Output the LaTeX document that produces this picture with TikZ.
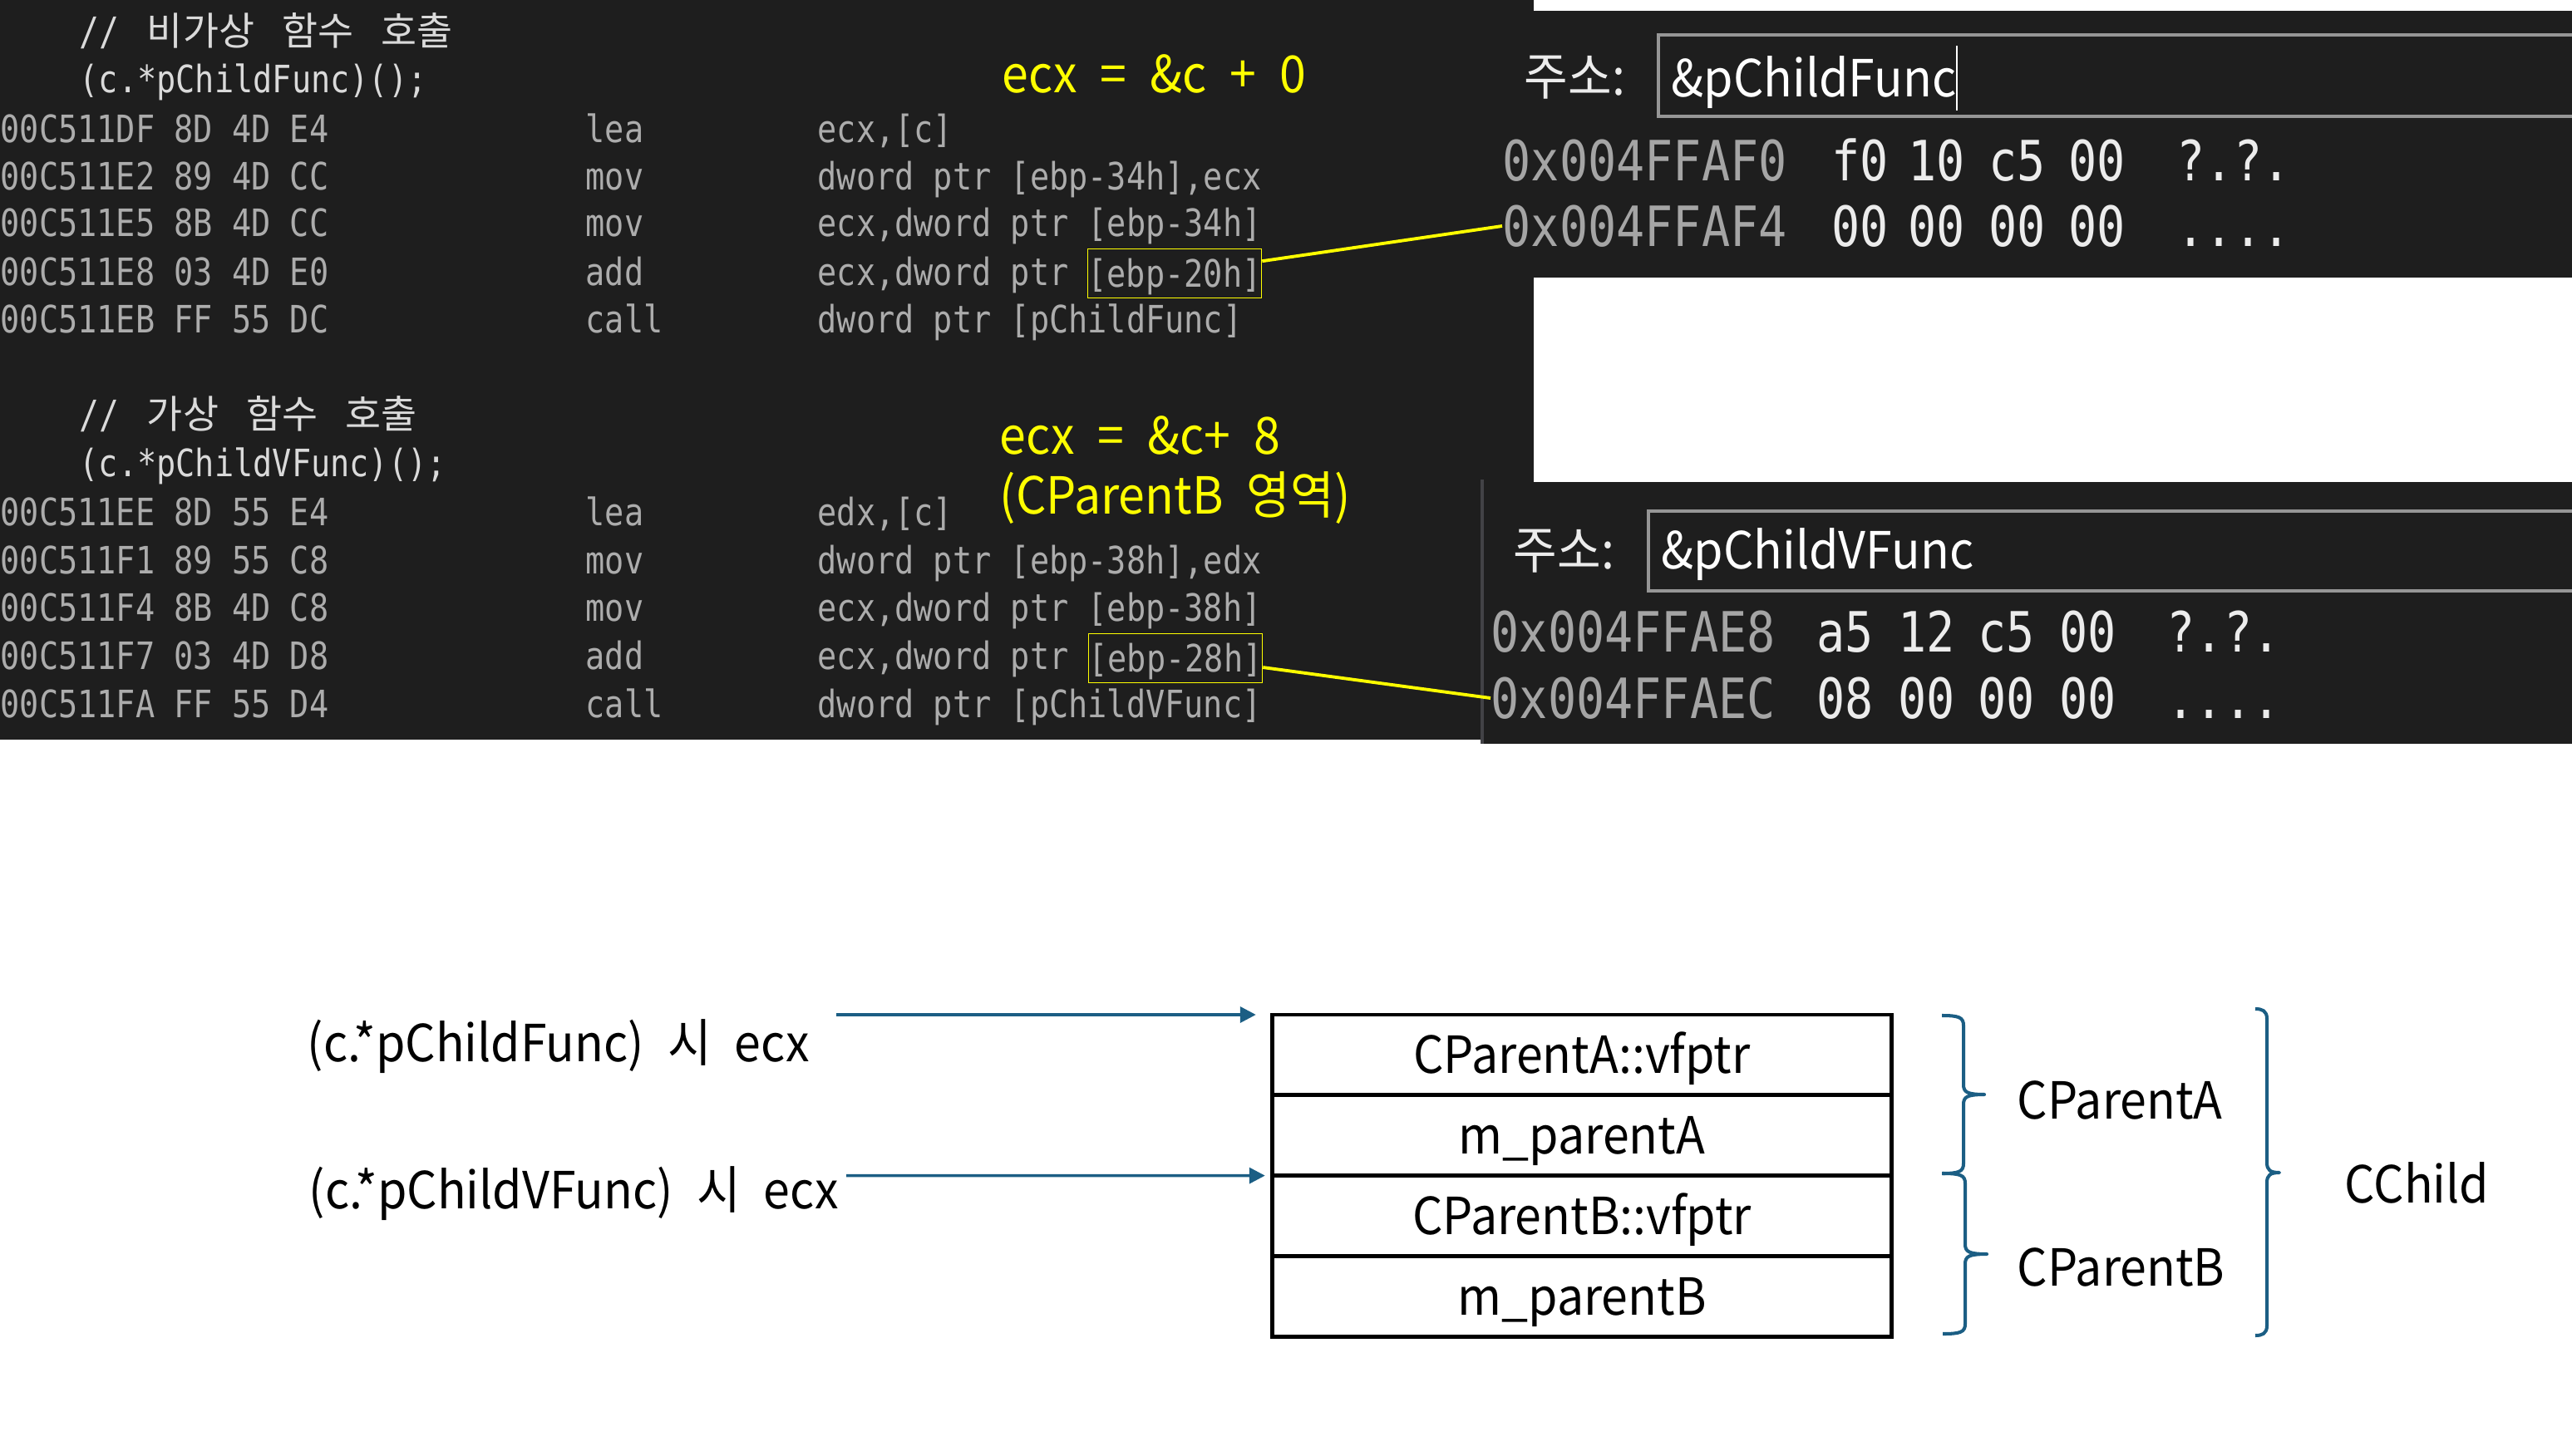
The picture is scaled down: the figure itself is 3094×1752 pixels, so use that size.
\documentclass[tikz,border=0pt]{standalone}
\usepackage{fontspec}
\setmainfont{Noto Sans CJK KR}
\newfontfamily\codefont[FakeStretch=0.85]{DejaVu Sans Mono}
\newfontfamily\uifont[FakeStretch=0.93]{Noto Sans CJK KR}
\usetikzlibrary{arrows.meta,positioning}

\newcommand{\wordgap}{\hspace{8pt}}
\newcommand{\cellgap}{\hspace{9.5pt}}

\definecolor{vsbg}{RGB}{30,30,30}
\definecolor{vsline}{RGB}{66,66,70}
\definecolor{codegray}{RGB}{172,172,172}
\definecolor{codewhite}{RGB}{218,218,218}
\definecolor{addrgray}{RGB}{165,165,165}
\definecolor{bytewhite}{RGB}{236,236,236}
\definecolor{editgray}{RGB}{150,150,150}
\definecolor{hlyellow}{RGB}{255,255,0}
\definecolor{ptrblue}{RGB}{27,94,132}

\tikzset{
  asm/.style={anchor=west, inner sep=0pt, text=codegray,
    font=\codefont\fontsize{12.9}{15}\selectfont, text height=12.4pt, text depth=3pt},
  src/.style={asm, text=codewhite},
  cmt/.style={anchor=west, inner sep=0pt, text=codewhite,
    font=\fontsize{13.3}{15}\selectfont, text height=12.6pt, text depth=3pt},
  ebpbox/.style={asm, anchor=center, draw=hlyellow, line width=0.45pt,
    minimum width=2.05cm, minimum height=0.59cm},
  hlline/.style={hlyellow, line width=1.1pt},
  note/.style={anchor=west, inner sep=0pt, text=hlyellow,
    font=\uifont\fontsize{17.5}{21}\selectfont, text height=16.8pt, text depth=4pt},
  ui/.style={note, text=bytewhite},
  memaddr/.style={anchor=west, inner sep=0pt, text=addrgray,
    font=\codefont\fontsize{19}{22}\selectfont, text height=17.9pt, text depth=4pt},
  membyte/.style={memaddr, text=bytewhite},
  editbox/.style={draw=editgray, line width=1.1pt},
  layoutcell/.style={draw, line width=1.4pt, outer sep=0pt, inner sep=0pt,
    minimum width=7.44cm, minimum height=0.9675cm,
    font=\uifont\fontsize{17.5}{21}\selectfont, text height=16.8pt, text depth=4pt},
  callname/.style={note, text=black},
  ptr/.style={ptrblue, line width=1pt, -{Triangle[length=0.19cm,width=0.19cm]}},
  bracepen/.style={ptrblue, line width=1.15pt, line join=round}
}

% right brace: x hook, x stem, x tip, y top, y tip, y bottom
\newcommand{\groupbrace}[6]{%
  \draw[bracepen] (#1,#4) .. controls (#2-6,#4) and (#2,#4+2) .. (#2,#4+12)
    -- (#2,#5-12) .. controls (#2,#5-3) and (#2+4,#5) .. (#3,#5)
    .. controls (#2+4,#5) and (#2,#5+3) .. (#2,#5+12)
    -- (#2,#6-12) .. controls (#2,#6-2) and (#2-6,#6) .. (#1,#6);}

\begin{document}
\begin{tikzpicture}[x=0.01cm, y=-0.01cm]
	\useasboundingbox (0,0) rectangle (3094,1752);
	\fill[white] (0,0) rectangle (3094,1752);
	
	% Disassembly window
	\fill[vsbg] (0,0) rectangle (1845,890);
	
	\node[cmt] (cmtA) at (95,38) {{\codefont//}\cellgap 비가상\cellgap 함수\cellgap 호출};
	\node[src] (srcA) at (95,95) {(c.*pChildFunc)();};
	\node[asm] (adrA1) at (0,155) {00C511DF 8D 4D E4};
	\node[asm] (insA1) at (704,155) {lea};
	\node[asm] (argA1) at (983,155) {ecx,[c]};
	\node[asm] (adrA2) at (0,212) {00C511E2 89 4D CC};
	\node[asm] (insA2) at (704,212) {mov};
	\node[asm] (argA2) at (983,212) {dword ptr [ebp-34h],ecx};
	\node[asm] (adrA3) at (0,268) {00C511E5 8B 4D CC};
	\node[asm] (insA3) at (704,268) {mov};
	\node[asm] (argA3) at (983,268) {ecx,dword ptr [ebp-34h]};
	\node[asm] (adrA4) at (0,327) {00C511E8 03 4D E0};
	\node[asm] (insA4) at (704,327) {add};
	\node[asm] (argA4) at (983,327) {ecx,dword ptr};
	\node[ebpbox] (ebpA) at (1413,329) {[ebp-20h]};
	\node[asm] (adrA5) at (0,384) {00C511EB FF 55 DC};
	\node[asm] (insA5) at (704,384) {call};
	\node[asm] (argA5) at (983,384) {dword ptr [pChildFunc]};
	
	\node[cmt] (cmtB) at (95,499) {{\codefont//}\cellgap 가상\cellgap 함수\cellgap 호출};
	\node[src] (srcB) at (95,557) {(c.*pChildVFunc)();};
	\node[asm] (adrB1) at (0,616) {00C511EE 8D 55 E4};
	\node[asm] (insB1) at (704,616) {lea};
	\node[asm] (argB1) at (983,616) {edx,[c]};
	\node[asm] (adrB2) at (0,674) {00C511F1 89 55 C8};
	\node[asm] (insB2) at (704,674) {mov};
	\node[asm] (argB2) at (983,674) {dword ptr [ebp-38h],edx};
	\node[asm] (adrB3) at (0,731) {00C511F4 8B 4D C8};
	\node[asm] (insB3) at (704,731) {mov};
	\node[asm] (argB3) at (983,731) {ecx,dword ptr [ebp-38h]};
	\node[asm] (adrB4) at (0,789) {00C511F7 03 4D D8};
	\node[asm] (insB4) at (704,789) {add};
	\node[asm] (argB4) at (983,789) {ecx,dword ptr};
	\node[ebpbox] (ebpB) at (1414,792) {[ebp-28h]};
	\node[asm] (adrB5) at (0,847) {00C511FA FF 55 D4};
	\node[asm] (insB5) at (704,847) {call};
	\node[asm] (argB5) at (983,847) {dword ptr [pChildVFunc]};
	
	% Notes
	\node[note] (noteA) at (1205,89) {ecx\wordgap=\wordgap\&c\wordgap+\wordgap0};
	\node[note] (noteB) at (1202,524) {ecx\wordgap=\wordgap\&c+\wordgap8};
	\node[note] (noteC) at (1202,596) {(CParentB\wordgap 영역)};
	
	% Memory window 1
	\fill[vsbg] (1845,13) rectangle (3094,334);
	\node[ui] (adrLblA) at (1833,92) {주소:};
	\draw[editbox] (1995,42) rectangle (3130,140);
	\node[ui, text=white] (editA) at (2010,94) {\&pChildFunc};
	\draw[white, line width=0.6pt] ([yshift=0.39cm]editA.east) -- ([yshift=-0.39cm]editA.east);
	\node[memaddr] (memA1) at (1807,193) {0x004FFAF0};
	\node[membyte] at (2203,193) {f0};
	\node[membyte] at (2295,193) {10};
	\node[membyte] at (2392,193) {c5};
	\node[membyte] at (2488,193) {00};
	\node[membyte] at (2618,193) {?.?.};
	\node[memaddr] (memA2) at (1807,272) {0x004FFAF4};
	\node[membyte] at (2203,272) {00};
	\node[membyte] at (2295,272) {00};
	\node[membyte] at (2392,272) {00};
	\node[membyte] at (2488,272) {00};
	\node[membyte] at (2618,272) {....};
	
	% Memory window 2
	\fill[vsbg] (1782,580) rectangle (3094,895);
	\draw[vsline, line width=1pt] (1783,577) -- (1783,895);
	\node[ui] (adrLblB) at (1820,662) {주소:};
	\draw[editbox] (1983,615) rectangle (3130,711);
	\node[ui, text=white] (editB) at (1998,662) {\&pChildVFunc};
	\node[memaddr] (memB1) at (1793,760) {0x004FFAE8};
	\node[membyte] at (2185,760) {a5};
	\node[membyte] at (2283,760) {12};
	\node[membyte] at (2379,760) {c5};
	\node[membyte] at (2477,760) {00};
	\node[membyte] at (2606,760) {?.?.};
	\node[memaddr] (memB2) at (1793,840) {0x004FFAEC};
	\node[membyte] at (2185,840) {08};
	\node[membyte] at (2283,840) {00};
	\node[membyte] at (2379,840) {00};
	\node[membyte] at (2477,840) {00};
	\node[membyte] at (2606,840) {....};
	
	% Highlight links
	\draw[hlline] (ebpA.8) -- (memA2.west);
	\draw[hlline] (ebpB.-6) -- (memB2.west);
	
	% Object layout
	\node[layoutcell, anchor=north] (cellA1) at (1903,1221) {CParentA::vfptr};
	\node[layoutcell, below=0pt of cellA1] (cellA2) {m\_parentA};
	\node[layoutcell, below=0pt of cellA2] (cellB1) {CParentB::vfptr};
	\node[layoutcell, below=0pt of cellB1] (cellB2) {m\_parentB};
	
	\node[callname] (callA) at (369,1255) {(c.*pChildFunc)\wordgap 시\wordgap ecx};
	\node[callname] (callB) at (371,1432) {(c.*pChildVFunc)\wordgap 시\wordgap ecx};
	\coordinate (ptrA) at (1006,1221);
	\coordinate (ptrB) at (1018,1414.5);
	\draw[ptr, shorten >=0.2cm] (ptrA) -- (cellA1.north west);
	\draw[ptr, shorten >=0.09cm] (ptrB) -- (cellB1.north west);
	
	% Braces
	\groupbrace{2336}{2362}{2387}{1222}{1317}{1412}
	\groupbrace{2337}{2364}{2390}{1412}{1509}{1605}
	\groupbrace{2713}{2727}{2742}{1214}{1411}{1607}
	\node[callname] (grpA) at (2426,1324) {CParentA};
	\node[callname] (grpB) at (2426,1525) {CParentB};
	\node[callname] (grpC) at (2820,1425) {CChild};
\end{tikzpicture}
\end{document}
